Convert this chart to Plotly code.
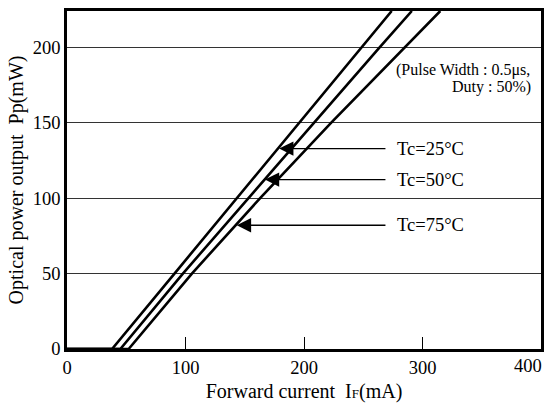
import plotly.graph_objects as go

# Data
power_levels = [0, 0, 50, 100, 150, 200, 224]          # Optical power output Pp (mW)
current_tc25 = [0, 38, 90.7, 143.5, 196, 249, 274]     # Forward current IF (mA) at Tc=25°C
current_tc50 = [0, 45, 97.8, 153, 208, 264, 291]       # at Tc=50°C
current_tc75 = [0, 52, 105.4, 163, 223, 285, 315]      # at Tc=75°C

series_names = ["Tc=25°C", "Tc=50°C", "Tc=75°C"]
series_currents = [current_tc25, current_tc50, current_tc75]

# Arrow tips (current, power) on each curve and arrow tail / label position
arrow_tip_x = [179, 167, 143.3]
arrow_tip_y = [132.8, 112.3, 82]
arrow_tail_x = 270
label_x = 276.5

x_ticks = [0, 100, 200, 300, 400]
x_tick_labels = ["0", "100", "200", "300", ""]   # "400" drawn right-aligned at the frame edge
last_x_tick_label = "400"
y_ticks = [0, 50, 100, 150, 200]

FONT = "Liberation Serif"

fig = go.Figure()
for name, cur in zip(series_names, series_currents):
    fig.add_trace(go.Scatter(
        x=cur, y=power_levels, mode="lines", name=name,
        line=dict(color="black", width=2.6, shape="linear"),
        showlegend=False, hoverinfo="skip",
    ))

annotations = []
for name, tx, ty in zip(series_names, arrow_tip_x, arrow_tip_y):
    annotations.append(dict(
        x=tx, y=ty, ax=arrow_tail_x, ay=ty, xref="x", yref="y",
        axref="x", ayref="y", text="", showarrow=True,
        arrowhead=2, arrowsize=2.2, arrowwidth=1.3, arrowcolor="black",
    ))
    annotations.append(dict(
        x=label_x, y=ty, xref="x", yref="y", text=name, showarrow=False,
        xanchor="left", yanchor="middle",
        font=dict(family=FONT, size=18.5, color="black"),
    ))

annotations.append(dict(
    x=392, y=184.6, xref="x", yref="y", text="(Pulse Width : 0.5μs,",
    showarrow=False, xanchor="right", yanchor="middle",
    font=dict(family=FONT, size=16, color="black"),
))
annotations.append(dict(
    x=393, y=173.6, xref="x", yref="y", text="Duty : 50%)",
    showarrow=False, xanchor="right", yanchor="middle",
    font=dict(family=FONT, size=16, color="black"),
))
annotations.append(dict(
    x=x_ticks[-1], y=0, xref="x", yref="paper", text=last_x_tick_label,
    showarrow=False, xanchor="right", yanchor="middle", xshift=3, yshift=-17,
    font=dict(family=FONT, size=18.5, color="black"),
))

fig.update_layout(
    width=547, height=403,
    margin=dict(l=67, r=6, t=11, b=54, autoexpand=False),
    paper_bgcolor="white", plot_bgcolor="white",
    font=dict(family=FONT, size=18.5, color="black"),
    annotations=annotations,
    xaxis=dict(
        range=[0, 400], tickvals=x_ticks, ticktext=x_tick_labels,
        ticks="inside", ticklen=12, tickwidth=1.3, tickcolor="black",
        automargin=False,
        showgrid=False, zeroline=False,
        showline=True, mirror=True, linewidth=2.5, linecolor="black",
        tickfont=dict(family=FONT, size=18.5, color="black"),
        title=dict(text="Forward current  I<span style='font-size:13px'>F</span>(mA)",
                   font=dict(family=FONT, size=20, color="black"), standoff=14),
    ),
    yaxis=dict(
        range=[0, 224], tickvals=y_ticks, ticktext=[str(v) for v in y_ticks],
        ticks="", showgrid=True, gridcolor="#333333", gridwidth=1.3,
        zeroline=False, automargin=False,
        showline=True, mirror=True, linewidth=2.5, linecolor="black",
        tickfont=dict(family=FONT, size=18.5, color="black"),
        title=dict(text="Optical power output  Pp(mW)",
                   font=dict(family=FONT, size=20, color="black"), standoff=4),
    ),
)

fig.write_html("out.html")
